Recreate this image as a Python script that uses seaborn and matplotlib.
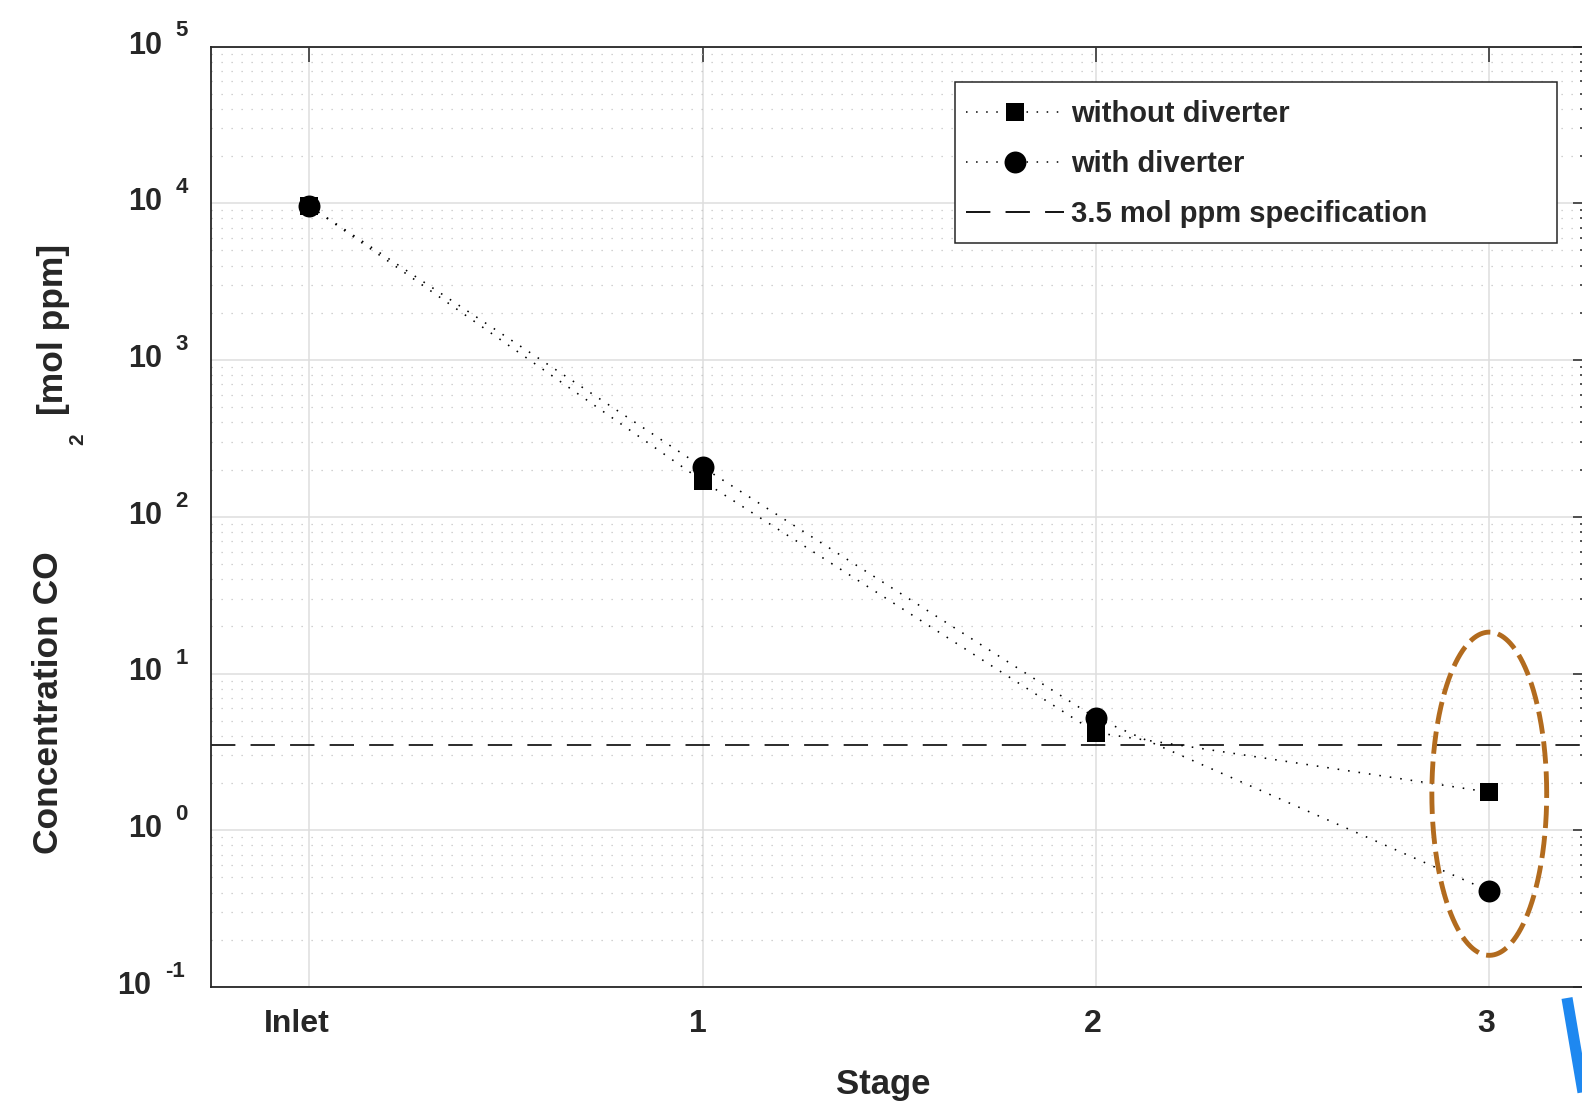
import numpy as np
import pandas as pd
import matplotlib
matplotlib.use("Agg")
import matplotlib.pyplot as plt
import matplotlib.transforms as mtransforms
import seaborn as sns
from matplotlib.lines import Line2D
from matplotlib.patches import Rectangle
from matplotlib.ticker import LogLocator, NullFormatter, FixedLocator

# ---------------- data ----------------
stages = ["Inlet", "1", "2", "3"]
without_diverter = [9600, 169, 4.2, 1.75]
with_diverter = [9600, 207, 5.2, 0.41]
spec_value = 3.5
ytick_exponents = [-1, 0, 1, 2, 3, 4, 5]
series_labels = ["without diverter", "with diverter", "3.5 mol ppm specification"]
x_label = "Stage"
y_label_parts = ["Concentration CO", "2", "[mol ppm]"]

# highlight ellipse around stage 3 (in decades)
ellipse_stage = 3
ellipse_half_width = 0.146
ellipse_center_log = 0.233
ellipse_half_height_log = 1.031

# ---------------- style ----------------
sns.set_style("white")
plt.rcParams["font.family"] = ["Liberation Sans", "DejaVu Sans"]
plt.rcParams["font.weight"] = "bold"

ink = "#262626"
W, H = 1582, 1107
fig = plt.figure(figsize=(W / 100, H / 100), dpi=100)
ax = fig.add_axes([211 / W, 1 - 987 / H, 1376.6 / W, (987 - 46.5) / H])

pos = np.arange(len(stages))
df = pd.DataFrame({"pos": pos, "without": without_diverter, "with": with_diverter})

dot = (0, (1, 5.6))
dash = (0, (13.5, 8.4))

ax.set_yscale("log")
ax.set_ylim(10.0 ** ytick_exponents[0], 10.0 ** ytick_exponents[-1])
ax.set_xlim(-0.25, len(stages) - 0.75)

# ticks & grid
ax.yaxis.set_major_locator(FixedLocator(10.0 ** np.array(ytick_exponents)))
ax.yaxis.set_minor_locator(LogLocator(base=10, subs=np.arange(2, 10), numticks=100))
ax.yaxis.set_major_formatter(NullFormatter())
ax.yaxis.set_minor_formatter(NullFormatter())
ax.set_xticks(pos)
ax.set_xticklabels([])
ax.grid(which="major", axis="both", color="#dedede", lw=1.1, ls="-")
ax.grid(which="minor", axis="y", color="#c2c2c2", lw=0.9, ls=(0, (1, 7)))
ax.set_axisbelow(True)

# x tick labels (MATLAB-like placement)
label_shift_px = [-13, -5, -3, -3]
for p, lab, dx in zip(pos, stages, label_shift_px):
    tr = ax.get_xaxis_transform() + mtransforms.Affine2D().translate(dx, -45)
    ax.text(p, 0, lab, transform=tr, ha="center", va="baseline",
            fontsize=23, fontweight="bold", color=ink)

# spec line
ax.axhline(spec_value, color="#1a1a1a", lw=1.3, ls=dash, zorder=2)

# series
sns.lineplot(data=df, x="pos", y="without", ax=ax, color="black", lw=1.15,
             linestyle=dot, marker="s", markersize=12.3, markeredgewidth=0,
             sort=False, legend=False, zorder=3)
sns.lineplot(data=df, x="pos", y="with", ax=ax, color="black", lw=1.15,
             linestyle=dot, marker="o", markersize=15.8, markeredgewidth=0,
             sort=False, legend=False, zorder=4)

# ellipse annotation
t = np.linspace(0, 2 * np.pi, 500)
ax.plot(ellipse_stage + ellipse_half_width * np.cos(t),
        10 ** (ellipse_center_log + ellipse_half_height_log * np.sin(t)),
        color="#B26B1E", lw=3.5, ls=(0, (4.6, 1.6)), zorder=5)

ax.set_xlabel("")
ax.set_ylabel("")

for s in ax.spines.values():
    s.set_color(ink)
    s.set_linewidth(1.3)
ax.tick_params(which="both", direction="in", top=True, right=True,
               color=ink, width=1.1)
ax.tick_params(which="major", length=11)
ax.tick_params(which="minor", length=6)

# legend (frame drawn separately)
handles = [
    Line2D([], [], color="black", lw=1.1, ls=dot, marker="s", ms=12.3, mew=0),
    Line2D([], [], color="black", lw=1.1, ls=dot, marker="o", ms=15.8, mew=0),
    Line2D([], [], color="black", lw=1.3, ls=dash),
]
leg = ax.legend(handles, series_labels, loc="upper left",
                bbox_to_anchor=(966 / W, 1 - 100 / H),
                bbox_transform=fig.transFigure, frameon=False,
                prop={"weight": "bold", "size": 21},
                handlelength=3.37, handletextpad=0.23, borderpad=0,
                labelspacing=0.76, borderaxespad=0, numpoints=1)
leg.set_zorder(10)
fig.add_artist(Rectangle((955 / W, 1 - 243 / H), (1557 - 955) / W, (243 - 82) / H,
                         transform=fig.transFigure, facecolor="white",
                         edgecolor=ink, lw=1.1, zorder=9))
fig.add_artist(leg)

# axis labels
fig.text(883 / W, 1 - 1094 / H, x_label, ha="center", va="baseline",
         fontsize=25, fontweight="bold", color=ink)
fig.text(58 / W, 1 - 703 / H, y_label_parts[0], rotation=90, rotation_mode="anchor",
         ha="center", va="baseline", fontsize=25.5, fontweight="bold", color=ink)
fig.text(83 / W, 1 - 439 / H, y_label_parts[1], rotation=90, rotation_mode="anchor",
         ha="center", va="baseline", fontsize=15, fontweight="bold", color=ink)
fig.text(63 / W, 1 - 329 / H, y_label_parts[2], rotation=90, rotation_mode="anchor",
         ha="center", va="baseline", fontsize=25.5, fontweight="bold", color=ink)

# y tick labels "10" with exponent
fig.canvas.draw()
r = fig.canvas.get_renderer()
for e in ytick_exponents:
    ty = ax.transData.transform((0, 10.0 ** e))[1]
    ex_right = 188 if e >= 0 else 185
    et = fig.text(ex_right / W, (ty + 10) / H, str(e), ha="right", va="baseline",
                  fontsize=16, fontweight="bold", color=ink)
    bb = et.get_window_extent(r)
    fig.text((bb.x0 - 14) / W, (ty - 7) / H, "10", ha="right", va="baseline",
             fontsize=22, fontweight="bold", color=ink)

# blue stroke at lower right
fig.add_artist(Line2D([1567 / W, 1586 / W], [1 - 998 / H, 1 - 1110 / H],
                      transform=fig.transFigure, color="#1E88F0", lw=8,
                      solid_capstyle="butt"))

fig.savefig("out.png", dpi=100)
